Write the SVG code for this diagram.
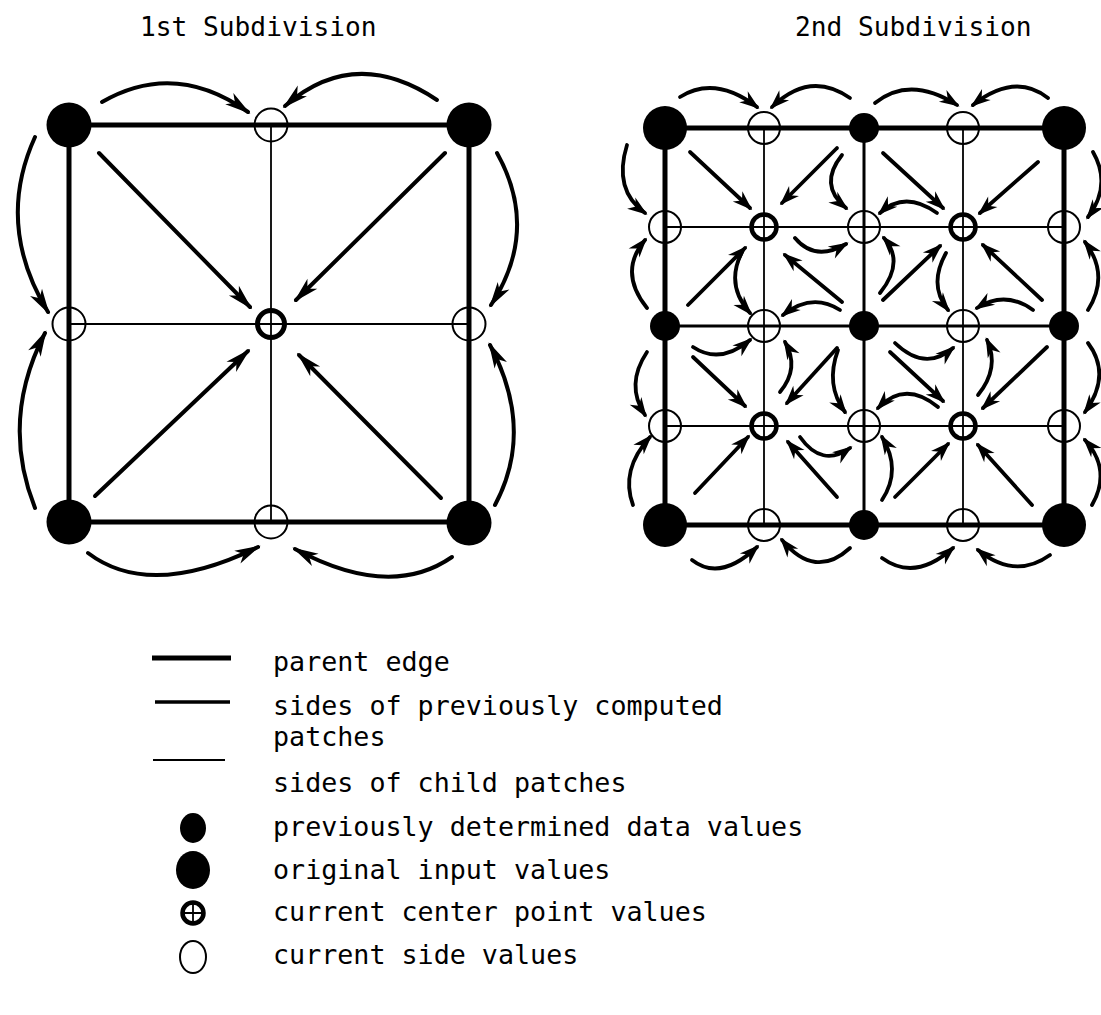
<svg xmlns="http://www.w3.org/2000/svg" width="1101" height="1015" viewBox="0 0 1101 1015">
<style>
  text { font-family: "DejaVu Sans Mono", "Liberation Mono", monospace; fill: #000; }
  .title { font-size: 26.2px; }
  .leg { font-size: 26.7px; }
  .thick { fill: none; stroke: #000; stroke-width: 5; }
  .med { fill: none; stroke: #000; stroke-width: 3; }
  .thin { fill: none; stroke: #000; stroke-width: 1.8; }
  .filled { fill: #000; }
  .open { fill: none; stroke: #000; stroke-width: 2; }
  .ctr { fill: none; stroke: #000; stroke-width: 5; }
  .ctrS { fill: none; stroke: #000; stroke-width: 4.5; }
  .arrL { fill: none; stroke: #000; stroke-width: 4; stroke-linecap: round; marker-end: url(#hL); }
  .arrS { fill: none; stroke: #000; stroke-width: 3.8; stroke-linecap: round; marker-end: url(#hS); }
</style>
<defs>
  <marker id="hL" markerUnits="userSpaceOnUse" markerWidth="30" markerHeight="20" refX="23" refY="10" orient="auto" overflow="visible">
    <path d="M0,3 L26,10 L0,17 L7,10 z" fill="#000"/>
  </marker>
  <marker id="hS" markerUnits="userSpaceOnUse" markerWidth="24" markerHeight="20" refX="17" refY="10" orient="auto" overflow="visible">
    <path d="M0,3 L20,10 L0,17 L6,10 z" fill="#000"/>
  </marker>
</defs>
<rect width="1101" height="1015" fill="#fff"/>

<!-- titles -->
<text class="title" x="140" y="36">1st Subdivision</text>
<text class="title" x="795" y="36">2nd Subdivision</text>

<!-- ===== LEFT DIAGRAM: grid lines ===== -->
<g id="left-edges">
  <path class="thick" d="M69,125 H469 V522 H69 Z"/>
  <path class="thin" d="M69,324 H469 M271,125 V522"/>
</g>

<!-- ===== RIGHT DIAGRAM: grid lines ===== -->
<g id="right-edges">
  <path class="thin" d="M665,227 H1064 M665,426 H1064 M764,128 V525 M963,128 V525"/>
  <path class="med" d="M665,326 H1064 M864,128 V525"/>
  <path class="thick" d="M665,128 H1064 V525 H665 Z"/>
</g>

<!-- ===== connectors ===== -->
<g id="connectors">
  <!-- left diagram diagonals -->
  <path class="arrL" d="M99,153 L250,307"/>
  <path class="arrL" d="M445,153 L296,300"/>
  <path class="arrL" d="M95,496 L248,351"/>
  <path class="arrL" d="M441,498 L299,355"/>
  <!-- left diagram curved -->
  <path class="arrL" d="M102,102 Q175,60 248,112"/>
  <path class="arrL" d="M437,100 Q355,45 285,106"/>
  <path class="arrL" d="M35,137 Q-5,225 48,312"/>
  <path class="arrL" d="M35,508 Q0,420 45,333"/>
  <path class="arrL" d="M497,153 Q540,230 491,305"/>
  <path class="arrL" d="M495,505 Q535,430 490,345"/>
  <path class="arrL" d="M88,553 Q150,600 258,547"/>
  <path class="arrL" d="M452,557 Q390,600 295,549"/>

  <!-- right diagram diagonals -->
  <path class="arrS" d="M690,152 L750,208"/>
  <path class="arrS" d="M837,148 L782,203"/>
  <path class="arrS" d="M688,305 L745,248"/>
  <path class="arrS" d="M842,302 L785,255"/>
  <path class="arrS" d="M883,153 L943,208"/>
  <path class="arrS" d="M1038,162 L980,213"/>
  <path class="arrS" d="M883,300 L940,246"/>
  <path class="arrS" d="M1042,300 L983,245"/>
  <path class="arrS" d="M693,357 L745,406"/>
  <path class="arrS" d="M837,348 L787,403"/>
  <path class="arrS" d="M695,493 L748,437"/>
  <path class="arrS" d="M837,497 L788,442"/>
  <path class="arrS" d="M890,352 L943,401"/>
  <path class="arrS" d="M1047,347 L983,408"/>
  <path class="arrS" d="M895,497 L948,444"/>
  <path class="arrS" d="M1032,505 L978,445"/>

  <!-- right diagram outer arcs: top -->
  <path class="arrS" d="M680,97 Q715,75 757,107"/>
  <path class="arrS" d="M850,98 Q810,70 772,107"/>
  <path class="arrS" d="M875,103 Q910,75 957,105"/>
  <path class="arrS" d="M1048,98 Q1015,72 973,105"/>
  <!-- bottom -->
  <path class="arrS" d="M692,560 Q720,582 757,547"/>
  <path class="arrS" d="M850,548 Q815,580 782,540"/>
  <path class="arrS" d="M882,558 Q915,582 953,548"/>
  <path class="arrS" d="M1050,555 Q1015,580 978,550"/>
  <!-- left -->
  <path class="arrS" d="M627,145 Q613,190 645,213"/>
  <path class="arrS" d="M647,308 Q618,272 645,240"/>
  <path class="arrS" d="M647,352 Q625,385 645,415"/>
  <path class="arrS" d="M633,505 Q620,470 650,437"/>
  <!-- right -->
  <path class="arrS" d="M1093,152 Q1112,185 1088,217"/>
  <path class="arrS" d="M1088,310 Q1110,275 1085,242"/>
  <path class="arrS" d="M1088,343 Q1112,375 1085,412"/>
  <path class="arrS" d="M1092,505 Q1112,470 1085,440"/>

  <!-- interior arcs into (864,227) -->
  <path class="arrS" d="M842,155 Q818,185 846,208"/>
  <path class="arrS" d="M937,213 Q905,190 880,213"/>
  <path class="arrS" d="M880,293 Q905,262 884,238"/>
  <path class="arrS" d="M795,238 Q815,262 846,244"/>
  <!-- into (764,326) -->
  <path class="arrS" d="M742,252 Q725,285 750,313"/>
  <path class="arrS" d="M840,310 Q812,292 783,315"/>
  <path class="arrS" d="M693,347 Q720,365 750,340"/>
  <path class="arrS" d="M780,392 Q800,368 785,342"/>
  <!-- into (963,326) -->
  <path class="arrS" d="M946,253 Q928,285 948,310"/>
  <path class="arrS" d="M1033,310 Q1005,290 977,308"/>
  <path class="arrS" d="M895,343 Q925,372 953,348"/>
  <path class="arrS" d="M978,395 Q1000,368 987,340"/>
  <!-- into (864,426) -->
  <path class="arrS" d="M838,350 Q825,385 845,412"/>
  <path class="arrS" d="M938,407 Q905,380 878,408"/>
  <path class="arrS" d="M882,500 Q902,470 882,437"/>
  <path class="arrS" d="M800,437 Q822,468 850,448"/>
</g>

<!-- ===== LEFT DIAGRAM nodes ===== -->
<g id="L-corner-tl"><circle class="filled" cx="69" cy="125" r="22.5"/></g>
<g id="L-corner-tr"><circle class="filled" cx="469" cy="125" r="22.5"/></g>
<g id="L-corner-bl"><circle class="filled" cx="69" cy="522" r="22.5"/></g>
<g id="L-corner-br"><circle class="filled" cx="469" cy="523" r="22.5"/></g>
<g id="L-side-top"><circle class="open" cx="271" cy="125" r="16.5"/></g>
<g id="L-side-left"><circle class="open" cx="69" cy="324" r="16.5"/></g>
<g id="L-side-right"><circle class="open" cx="469" cy="324" r="16.5"/></g>
<g id="L-side-bottom"><circle class="open" cx="271" cy="522" r="16.5"/></g>
<g id="L-center"><circle class="ctr" cx="271" cy="324" r="13.5"/></g>

<!-- ===== RIGHT DIAGRAM nodes ===== -->
<g id="R-orig-tl"><circle class="filled" cx="665" cy="128" r="22"/></g>
<g id="R-orig-tr"><circle class="filled" cx="1064" cy="128" r="22"/></g>
<g id="R-orig-bl"><circle class="filled" cx="665" cy="525" r="22"/></g>
<g id="R-orig-br"><circle class="filled" cx="1064" cy="525" r="22"/></g>
<g id="R-prev-top"><circle class="filled" cx="864" cy="128" r="15"/></g>
<g id="R-prev-left"><circle class="filled" cx="665" cy="326" r="15"/></g>
<g id="R-prev-mid"><circle class="filled" cx="864" cy="326" r="15"/></g>
<g id="R-prev-right"><circle class="filled" cx="1064" cy="326" r="15"/></g>
<g id="R-prev-bottom"><circle class="filled" cx="864" cy="525" r="15"/></g>
<g id="R-ctr-1"><circle class="ctrS" cx="764" cy="227" r="12.5"/></g>
<g id="R-ctr-2"><circle class="ctrS" cx="963" cy="227" r="12.5"/></g>
<g id="R-ctr-3"><circle class="ctrS" cx="764" cy="426" r="12.5"/></g>
<g id="R-ctr-4"><circle class="ctrS" cx="963" cy="426" r="12.5"/></g>
<g id="R-side-1"><circle class="open" cx="764" cy="128" r="16"/></g>
<g id="R-side-2"><circle class="open" cx="963" cy="128" r="16"/></g>
<g id="R-side-3"><circle class="open" cx="665" cy="227" r="16"/></g>
<g id="R-side-4"><circle class="open" cx="864" cy="227" r="16"/></g>
<g id="R-side-5"><circle class="open" cx="1064" cy="227" r="16"/></g>
<g id="R-side-6"><circle class="open" cx="764" cy="326" r="16"/></g>
<g id="R-side-7"><circle class="open" cx="963" cy="326" r="16"/></g>
<g id="R-side-8"><circle class="open" cx="665" cy="426" r="16"/></g>
<g id="R-side-9"><circle class="open" cx="864" cy="426" r="16"/></g>
<g id="R-side-10"><circle class="open" cx="1064" cy="426" r="16"/></g>
<g id="R-side-11"><circle class="open" cx="764" cy="525" r="16"/></g>
<g id="R-side-12"><circle class="open" cx="963" cy="525" r="16"/></g>

<!-- ===== LEGEND ===== -->
<g id="legend-parent-edge">
  <path class="thick" d="M152,658 H231"/>
  <text class="leg" x="273" y="671">parent edge</text>
</g>
<g id="legend-prev-sides">
  <path fill="none" stroke="#000" stroke-width="3.5" d="M155,702 H230"/>
  <text class="leg" x="273" y="715">sides of previously computed</text>
  <text class="leg" x="273" y="746">patches</text>
</g>
<g id="legend-child-sides">
  <path class="thin" d="M153,760 H225"/>
  <text class="leg" x="273" y="792">sides of child patches</text>
</g>
<g id="legend-prev-values">
  <ellipse class="filled" cx="193" cy="828" rx="13" ry="15"/>
  <text class="leg" x="273" y="836">previously determined data values</text>
</g>
<g id="legend-orig-values">
  <ellipse class="filled" cx="193" cy="870" rx="17" ry="19"/>
  <text class="leg" x="273" y="879">original input values</text>
</g>
<g id="legend-center-values">
  <circle fill="none" stroke="#000" stroke-width="4.5" cx="193" cy="913" r="10.5"/>
  <path stroke="#000" stroke-width="1.8" d="M183,913 H203 M193,903 V923"/>
  <text class="leg" x="273" y="921">current center point values</text>
</g>
<g id="legend-side-values">
  <ellipse class="open" cx="193" cy="957" rx="13" ry="16"/>
  <text class="leg" x="273" y="964">current side values</text>
</g>
</svg>
